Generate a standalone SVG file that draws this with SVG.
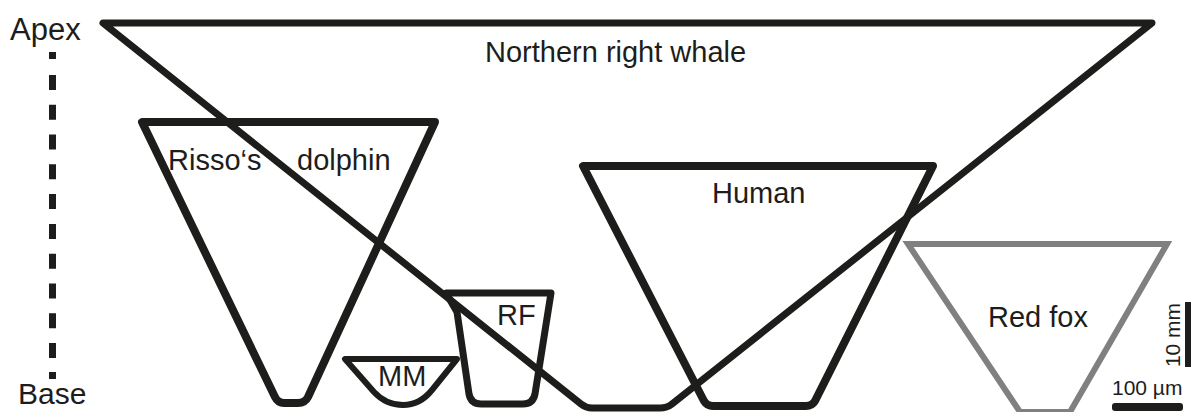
<svg xmlns="http://www.w3.org/2000/svg" width="1193" height="412" viewBox="0 0 1193 412">
  <style>
    .shape { fill: none; stroke: #1d1d1b; stroke-linejoin: round; stroke-linecap: round; }
    .grey { fill: none; stroke: #808080; stroke-width: 6; stroke-linejoin: miter; }
    .lbl { font-family: "Liberation Sans", Arial, sans-serif; font-size: 29px; fill: #1d1d1b; }
    .axis { font-family: "Liberation Sans", Arial, sans-serif; font-size: 31px; fill: #1d1d1b; }
    .scale { font-family: "Liberation Sans", Arial, sans-serif; font-size: 21px; fill: #1d1d1b; }
  </style>
  <rect width="1193" height="412" fill="#ffffff"/>

  <g id="axis">
    <text class="axis" x="10" y="40">Apex</text>
    <text class="axis" x="18" y="404" style="font-size:30px">Base</text>
    <rect x="49" y="52" width="7" height="7" fill="#1d1d1b"/>
    <line x1="52.5" y1="75" x2="52.5" y2="358" stroke="#1d1d1b" stroke-width="7" stroke-dasharray="15 14.78"/>
    <rect x="49" y="372" width="7" height="7" fill="#1d1d1b"/>
  </g>

  <g id="northern-right-whale">
    <path class="shape" stroke-width="7" d="M103,23 L1152,23 L672,404 Q667,408 660,408 L592,408 Q586,408 581,404 Z"/>
    <text class="lbl" x="485" y="62">Northern right whale</text>
  </g>

  <g id="rissos-dolphin">
    <path class="shape" stroke-width="8" d="M142,122 L435,122 L308,397 Q305,403 298,403 L284,403 Q278,403 275,397 Z"/>
    <text class="lbl" x="168" y="170">Risso‘s</text>
    <text class="lbl" x="297" y="170">dolphin</text>
  </g>

  <g id="mm">
    <path class="shape" stroke-width="6" d="M345,359 L457,359 L432,390 Q420,405 403,405 Q386,405 374,392 Z"/>
    <text class="lbl" x="378" y="386">MM</text>
  </g>

  <g id="rf">
    <path class="shape" stroke-width="7" d="M446,293 L551,293 L535,394 Q533,404 523,404 L481,404 Q471,404 469,394 L457,312 Z"/>
    <text class="lbl" x="497" y="325">RF</text>
  </g>

  <g id="human">
    <path class="shape" stroke-width="8" d="M583,166 L933,166 L815,401 Q812,406 806,406 L713,406 Q707,406 704,401 Z"/>
    <text class="lbl" x="712" y="203">Human</text>
  </g>

  <g id="red-fox">
    <path class="grey" d="M908,244 L1167,244 L1070,412 L1020,412 Z"/>
    <text class="lbl" x="988" y="327">Red fox</text>
  </g>

  <g id="scale-bars">
    <rect x="1185" y="302" width="6" height="65" fill="#1d1d1b"/>
    <text class="scale" transform="translate(1180,335) rotate(-90)" text-anchor="middle">10 mm</text>
    <text class="scale" x="1112" y="395">100 µm</text>
    <rect x="1112" y="403" width="71" height="8" rx="3" fill="#1d1d1b"/>
  </g>
</svg>
